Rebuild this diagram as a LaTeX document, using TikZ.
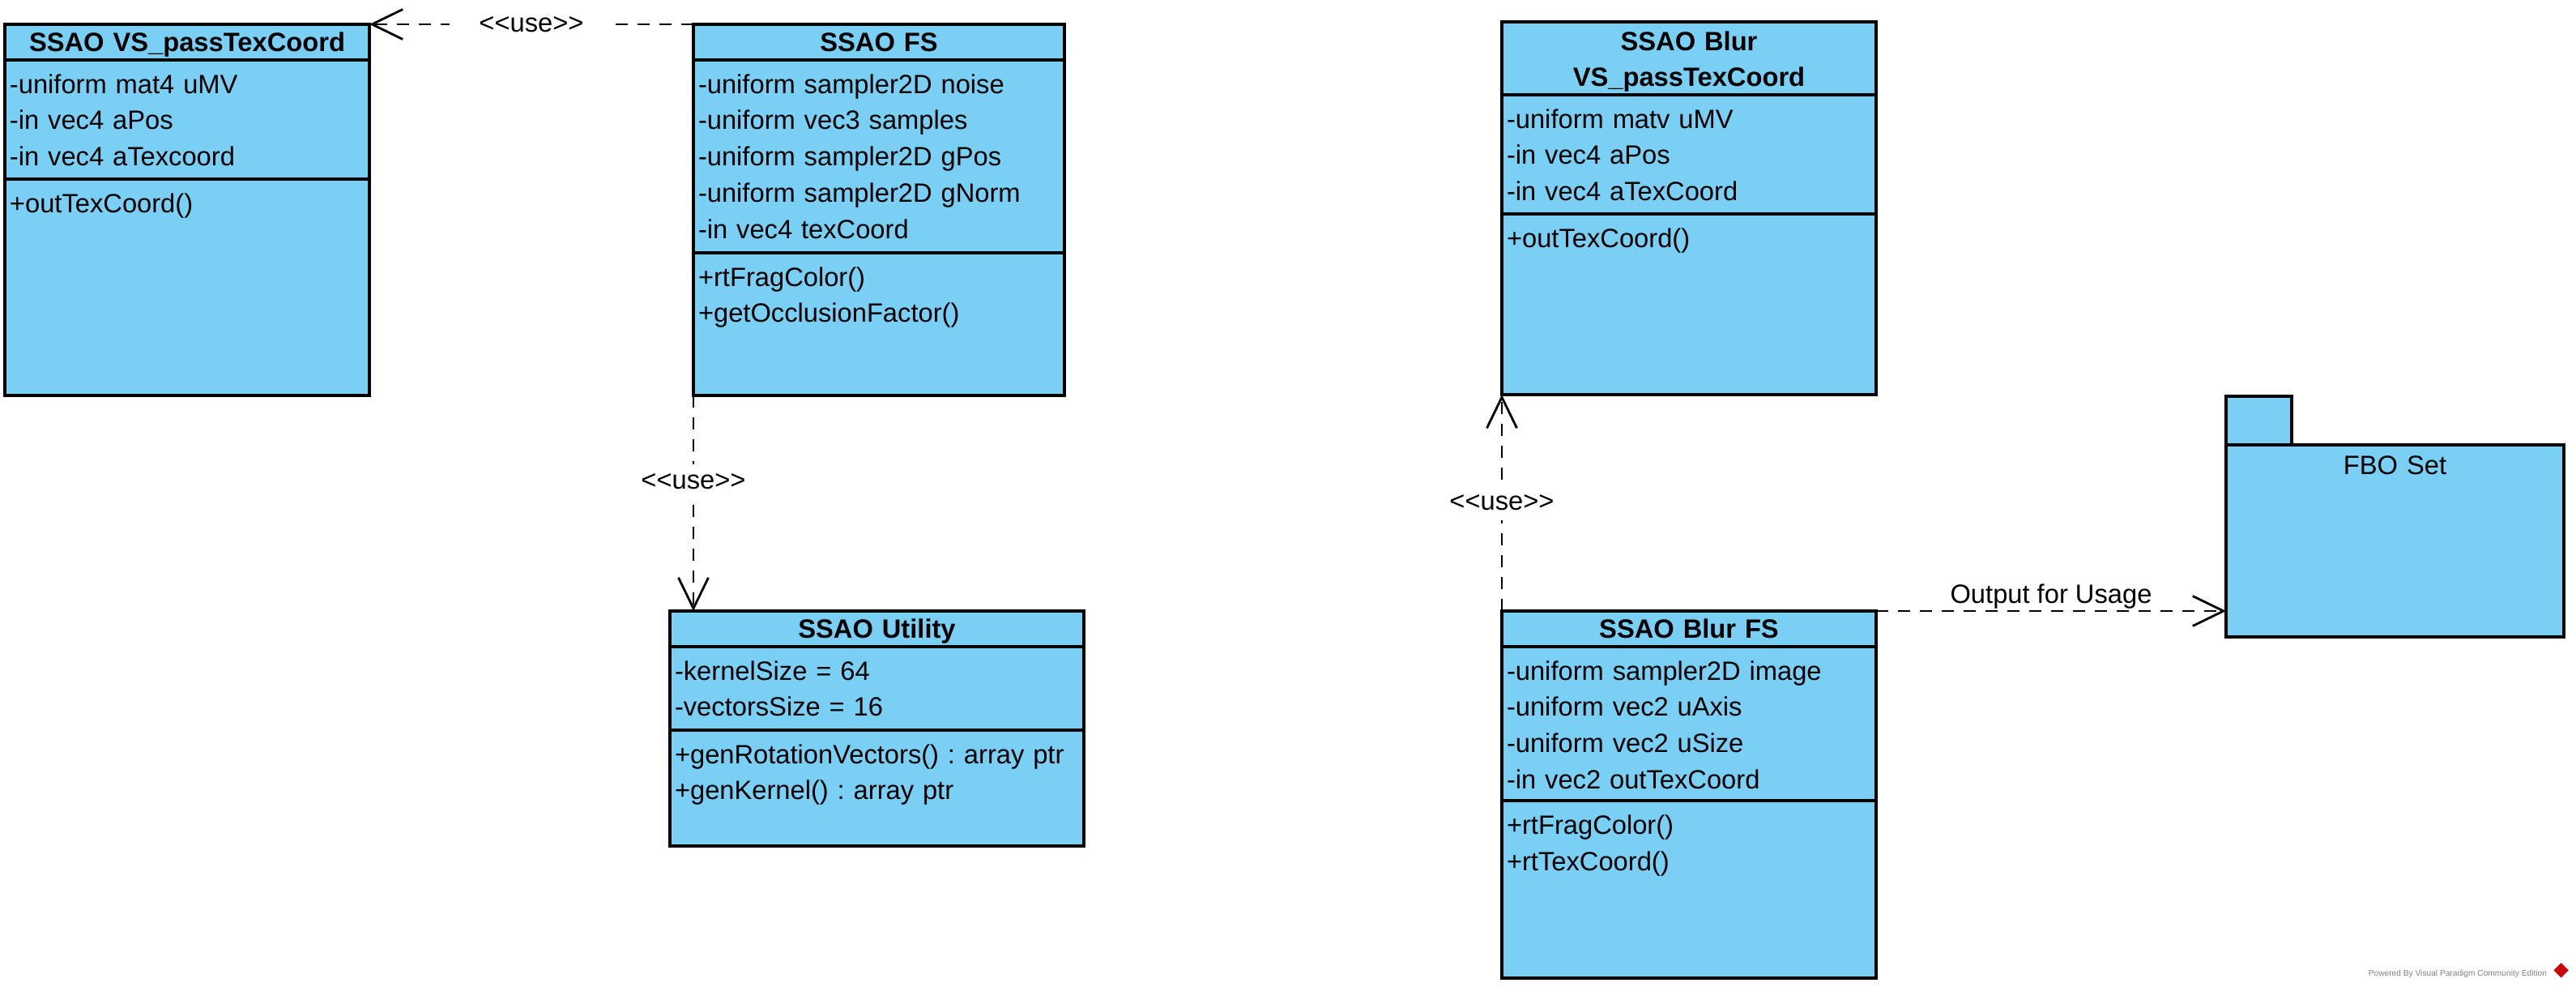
\documentclass[tikz,border=0pt]{standalone}
\usepackage{fontspec}
\setmainfont{Liberation Sans}
\usetikzlibrary{positioning,arrows.meta}
\definecolor{vpblue}{RGB}{122,207,245}

\begin{document}
\frenchspacing
\begin{tikzpicture}[thick,
  every node/.style={font=\fontsize{9.3pt}{12.8pt}\selectfont, inner ysep=0pt, inner xsep=0.06cm, outer sep=0pt},
  class_head/.style={draw, line width=1pt, fill=vpblue, align=center, text width={#1-0.12cm}, text height=0.33cm, text depth=0.11cm, font=\fontsize{9.3pt}{12.8pt}\selectfont\bfseries},
  class_part/.style={draw, line width=1pt, fill=vpblue, align=left, text width={#1-0.12cm}, text height=0.41cm},
  pkg_box/.style={draw, line width=1pt, fill=vpblue},
  use_dep/.style={dash pattern=on 0.15cm off 0.12cm, line width=0.8pt, -{Straight Barb[length=0.38cm,width=0.37cm]}},
  use_label/.style={fill=white, inner xsep=0.36cm, inner ysep=0.12cm}]

  \useasboundingbox (0,0) rectangle (31.80,-12.18);

  % SSAO pass
  \node[class_head=4.50cm] (vs_head) [anchor=north west] at (0.06,-0.30) {SSAO VS\_passTexCoord};
  \node[class_part=4.50cm, text depth=1.06cm] (vs_attr) [below=0pt of vs_head] {-uniform mat4 uMV\\-in vec4 aPos\\-in vec4 aTexcoord};
  \node[class_part=4.50cm, text depth=2.26cm] (vs_ops) [below=0pt of vs_attr] {+outTexCoord()};

  \node[class_head=4.58cm] (fs_head) [anchor=north west] at (8.56,-0.30) {SSAO FS};
  \node[class_part=4.58cm, text depth=1.97cm] (fs_attr) [below=0pt of fs_head] {-uniform sampler2D noise\\-uniform vec3 samples\\-uniform sampler2D gPos\\-uniform sampler2D gNorm\\-in vec4 texCoord};
  \node[class_part=4.58cm, text depth=1.35cm] (fs_ops) [below=0pt of fs_attr] {+rtFragColor()\\+getOcclusionFactor()};

  \node[class_head=5.11cm] (util_head) [anchor=north west] at (8.27,-7.54) {SSAO Utility};
  \node[class_part=5.11cm, text depth=0.62cm] (util_attr) [below=0pt of util_head] {-kernelSize = 64\\-vectorsSize = 16};
  \node[class_part=5.11cm, text depth=1.02cm] (util_ops) [below=0pt of util_attr] {+genRotationVectors() : array ptr\\+genKernel() : array ptr};

  % blur pass
  \node[class_head=4.62cm, text height=0.35cm, text depth=0.55cm] (bvs_head) [anchor=north west] at (18.54,-0.27) {SSAO Blur\\VS\_passTexCoord};
  \node[class_part=4.62cm, text depth=1.06cm] (bvs_attr) [below=0pt of bvs_head] {-uniform matv uMV\\-in vec4 aPos\\-in vec4 aTexCoord};
  \node[class_part=4.62cm, text depth=1.82cm] (bvs_ops) [below=0pt of bvs_attr] {+outTexCoord()};

  \node[class_head=4.62cm] (bfs_head) [anchor=north west] at (18.54,-7.54) {SSAO Blur FS};
  \node[class_part=4.62cm, text depth=1.49cm] (bfs_attr) [below=0pt of bfs_head] {-uniform sampler2D image\\-uniform vec2 uAxis\\-uniform vec2 uSize\\-in vec2 outTexCoord};
  \node[class_part=4.62cm, text depth=1.78cm] (bfs_ops) [below=0pt of bfs_attr] {+rtFragColor()\\+rtTexCoord()};

  % package
  \node[pkg_box, minimum width=0.81cm, minimum height=0.60cm] (fbo_tab) [anchor=north west] at (27.48,-4.89) {};
  \node[pkg_box, align=center, text width={4.17cm-0.12cm}, text height=0.36cm, text depth=2.01cm] (fbo_body) [below right=0pt of fbo_tab.south west] {FBO Set};

  \path[use_dep]
    (fs_head.north west) edge node[use_label] {<{}<use>{}>} (vs_head.north east)
    (fs_ops.south west) edge node[use_label, pos=0.4] {<{}<use>{}>} (fs_ops.south west |- util_head.north)
    (bfs_head.north west) edge node[use_label] {<{}<use>{}>} (bvs_ops.south west)
    (bfs_head.north east) edge node[above=0.03cm] {Output for Usage} (bfs_head.north east -| fbo_body.west);

%  \node (vp_note) at (29,-11) {};
  \node[font=\fontsize{2.9pt}{3pt}\selectfont, text=gray, anchor=east] (vp_mark) at (31.50,-12.02) {Powered By Visual Paradigm Community Edition};
  \node[fill=red!80!black, rotate=45, minimum size=0.13cm, inner sep=0pt] (vp_logo) [right=0.07cm of vp_mark] {};
\end{tikzpicture}
\end{document}
